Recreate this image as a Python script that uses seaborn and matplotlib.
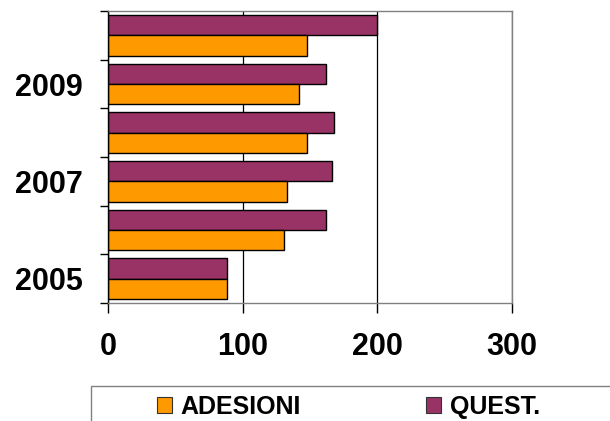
import pandas as pd
import matplotlib.pyplot as plt
import seaborn as sns
from matplotlib.patches import Patch, Rectangle

# Data
years = ["2005", "2006", "2007", "2008", "2009", "2010"]
adesioni = [88, 131, 133, 148, 142, 148]
quest = [88, 162, 166, 168, 162, 200]
year_labels = ["", "2009", "", "2007", "", "2005"]  # top to bottom
x_ticks = [0, 100, 200, 300]

orange = "#FF9900"
purple = "#993366"

df = pd.DataFrame({
    "anno": years * 2,
    "valore": adesioni + quest,
    "serie": ["ADESIONI"] * len(years) + ["QUEST."] * len(years),
})

sns.set_style("white")
plt.rcParams["font.family"] = ["Liberation Sans", "DejaVu Sans"]
plt.rcParams["font.weight"] = "bold"
plt.rcParams["text.color"] = "black"
plt.rcParams["xtick.color"] = "black"
plt.rcParams["ytick.color"] = "black"

fig = plt.figure(figsize=(6.1, 4.21), dpi=100)
ax = fig.add_axes([108 / 610, 1 - 303 / 421, 404 / 610, 292 / 421])

sns.barplot(
    data=df,
    y="anno",
    x="valore",
    hue="serie",
    orient="h",
    order=years[::-1],
    hue_order=["QUEST.", "ADESIONI"],
    palette={"ADESIONI": orange, "QUEST.": purple},
    saturation=1,
    width=0.83,
    edgecolor="black",
    linewidth=1,
    legend=False,
    ax=ax,
)

ax.set_xlim(0, 300)
ax.set_ylim(5.5, -0.5)
ax.set_xlabel("")
ax.set_ylabel("")

# x axis
ax.set_xticks(x_ticks)
ax.set_xticklabels([str(t) for t in x_ticks], fontsize=22, fontweight="bold",
                   color="black")
ax.tick_params(axis="x", direction="out", length=7, width=1, color="black",
               pad=14, bottom=True)
ax.xaxis.grid(True, color="black", linewidth=0.9)
ax.yaxis.grid(False)
ax.set_axisbelow(True)

# y axis: labels at centers, ticks at category boundaries
ax.set_yticks(range(len(years)))
ax.set_yticklabels(year_labels, fontsize=22, fontweight="bold", color="black")
ax.tick_params(axis="y", which="major", length=0, pad=18)
ax.set_yticks([i - 0.5 for i in range(len(years) + 1)], minor=True)
ax.tick_params(axis="y", which="minor", direction="out", length=6, width=1,
               color="black", left=True)

for side in ["top", "right", "bottom"]:
    ax.spines[side].set_color("#808080")
    ax.spines[side].set_linewidth(1)
ax.spines["left"].set_color("black")
ax.spines["left"].set_linewidth(1)

# legend box (runs off the figure edge like the original)
fig.patches.append(Rectangle((91 / 610, -0.2), 1.0, 1.2 - 386 / 421,
                             transform=fig.transFigure, facecolor="white",
                             edgecolor="#808080", linewidth=1, zorder=0))
handles = [
    Patch(facecolor=orange, edgecolor="#333333", linewidth=0.8),
    Patch(facecolor=purple, edgecolor="#333333", linewidth=0.8),
]
fig.legend(
    handles, ["ADESIONI", "QUEST."],
    loc="center left",
    bbox_to_anchor=(157 / 610, 1 - 407 / 421),
    ncol=2,
    frameon=False,
    prop={"weight": "bold", "size": 18},
    labelcolor="black",
    handlelength=0.6,
    handleheight=0.6,
    handletextpad=0.35,
    columnspacing=5.0,
    borderpad=0,
    borderaxespad=0,
)

fig.savefig("out.png", dpi=100)
